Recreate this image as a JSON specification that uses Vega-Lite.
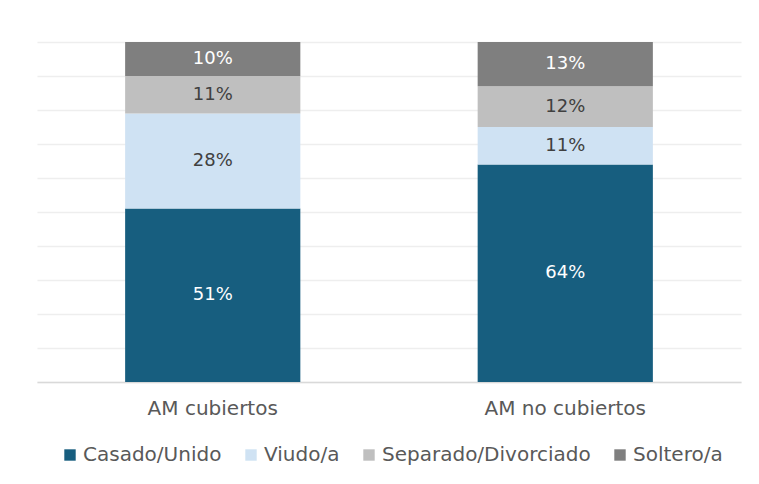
{
  "$schema": "https://vega.github.io/schema/vega-lite/v6.json",
  "width": 704,
  "height": 340,
  "autosize": {"type": "none"},
  "padding": {"left": 37, "top": 42, "right": 18, "bottom": 102},
  "background": "white",
  "config": {
    "view": {"stroke": null},
    "font": "DejaVu Sans",
    "axisY": {
      "title": null,
      "labels": false,
      "ticks": false,
      "domain": false,
      "gridColor": "#eeeeee",
      "gridWidth": 1.5
    }
  },
  "data": {
    "values": [
      {"grupo": "AM cubiertos", "estado": "Casado/Unido", "orden": 1, "valor": 0.51},
      {"grupo": "AM cubiertos", "estado": "Viudo/a", "orden": 2, "valor": 0.28},
      {"grupo": "AM cubiertos", "estado": "Separado/Divorciado", "orden": 3, "valor": 0.11},
      {"grupo": "AM cubiertos", "estado": "Soltero/a", "orden": 4, "valor": 0.10},
      {"grupo": "AM no cubiertos", "estado": "Casado/Unido", "orden": 1, "valor": 0.64},
      {"grupo": "AM no cubiertos", "estado": "Viudo/a", "orden": 2, "valor": 0.11},
      {"grupo": "AM no cubiertos", "estado": "Separado/Divorciado", "orden": 3, "valor": 0.12},
      {"grupo": "AM no cubiertos", "estado": "Soltero/a", "orden": 4, "valor": 0.13}
    ]
  },
  "transform": [
    {"stack": "valor", "groupby": ["grupo"], "sort": [{"field": "orden", "order": "ascending"}], "as": ["y0", "y1"]},
    {"calculate": "(datum.y0 + datum.y1) / 2", "as": "ymid"}
  ],
  "encoding": {
    "x": {
      "field": "grupo",
      "type": "nominal",
      "scale": {"paddingInner": 0.503, "paddingOuter": 0.25},
      "axis": {
        "title": null,
        "labelAngle": 0,
        "labelFontSize": 20,
        "labelColor": "#595959",
        "labelPadding": 16,
        "ticks": false,
        "domainColor": "#d9d9d9",
        "domainWidth": 1.5
      }
    }
  },
  "layer": [
    {
      "mark": {"type": "bar"},
      "encoding": {
        "y": {
          "field": "y0",
          "type": "quantitative",
          "scale": {"domain": [0, 1], "nice": false},
          "axis": {"values": [0, 0.1, 0.2, 0.3, 0.4, 0.5, 0.6, 0.7, 0.8, 0.9, 1]}
        },
        "y2": {"field": "y1"},
        "color": {
          "field": "estado",
          "type": "nominal",
          "scale": {
            "domain": ["Casado/Unido", "Viudo/a", "Separado/Divorciado", "Soltero/a"],
            "range": ["#175e7f", "#cfe2f3", "#bfbfbf", "#7f7f7f"]
          },
          "legend": {
            "title": null,
            "orient": "none",
            "legendX": 23,
            "legendY": 403,
            "direction": "horizontal",
            "symbolType": "square",
            "symbolSize": 130,
            "symbolStrokeWidth": 0,
            "labelFontSize": 20,
            "labelLimit": 400,
            "labelColor": "#595959",
            "labelOffset": 3,
            "columnPadding": 19
          }
        }
      }
    },
    {
      "mark": {"type": "text", "fontSize": 18, "baseline": "middle", "align": "center"},
      "encoding": {
        "y": {
          "field": "ymid",
          "type": "quantitative",
          "axis": {"values": [0, 0.1, 0.2, 0.3, 0.4, 0.5, 0.6, 0.7, 0.8, 0.9, 1]}
        },
        "text": {"field": "valor", "type": "quantitative", "format": ".0%"},
        "color": {
          "condition": {"test": "datum.orden == 1 || datum.orden == 4", "value": "#ffffff"},
          "value": "#404040"
        }
      }
    }
  ]
}
